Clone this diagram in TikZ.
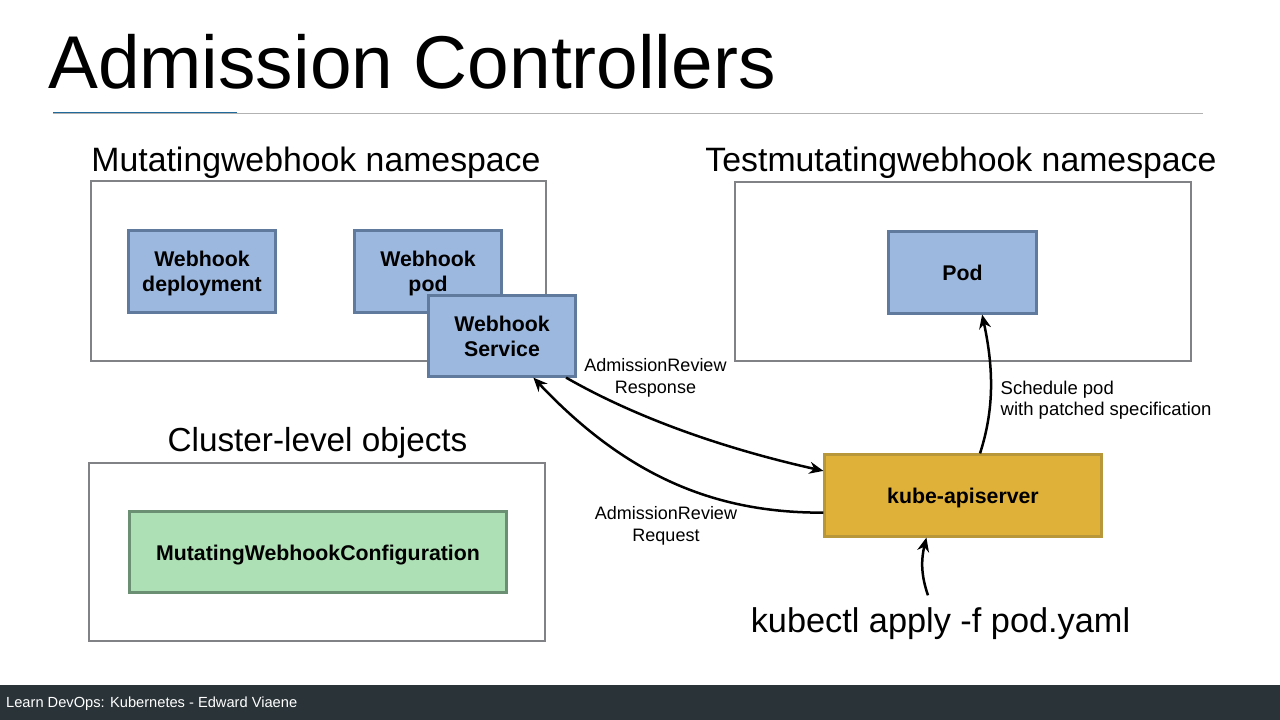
\documentclass[tikz,border=0pt]{standalone}
\usepackage{fontspec}
\setmainfont{Liberation Sans}
\definecolor{nsgray}{HTML}{808285}
\definecolor{bluefill}{HTML}{9DB8DE}
\definecolor{blueline}{HTML}{5F7A9C}
\definecolor{greenfill}{HTML}{AEE0B5}
\definecolor{greenline}{HTML}{6A8F72}
\definecolor{apifill}{HTML}{E0B138}
\definecolor{apiline}{HTML}{B8963A}
\definecolor{barfill}{HTML}{2A3338}
\definecolor{accent}{HTML}{1F6A9A}
\tikzset{
  nsbox/.style={draw=nsgray,line width=2.7pt,fill=white,inner sep=0pt},
  objbox/.style={draw=blueline,fill=bluefill,line width=2.2pt,inner sep=0pt,align=center,font=\fontsize{21.3}{25}\selectfont\bfseries},
  nudge/.style={execute at begin node={\rule{0pt}{#1}}},
  greenbox/.style={objbox,draw=greenline,fill=greenfill},
  apibox/.style={objbox,draw=apiline,fill=apifill},
  nslabel/.style={inner sep=0pt,font=\fontsize{33.8}{38}\selectfont},
  smalllabel/.style={inner sep=0pt,align=center,font=\fontsize{18}{21.5}\selectfont},
  flow/.style={draw=black,line width=2.5pt,-{Stealth[length=14pt,width=12pt]}}
}
\usetikzlibrary{arrows.meta}
\begin{document}
\begin{tikzpicture}[x=1pt,y=-1pt]
\useasboundingbox (0,0) rectangle (1280,720);
\fill[white] (0,0) rectangle (1280,720);
% title
\node[inner sep=0pt,anchor=west,font=\fontsize{74.8}{90}\selectfont] (title) at (48,61.5) {Admission Controllers};
\draw[line width=1pt,color=black!30] (53,113) -- (1203,113);
\draw[line width=1.4pt,color=accent] (53,112.6) -- (237,112.6);
% namespace boxes
\node[nsbox,minimum width=455pt,minimum height=180pt] (ns1) at (318.5,271) {};
\node[nsbox,minimum width=456pt,minimum height=179pt] (ns2) at (963,271.5) {};
\node[nsbox,minimum width=456pt,minimum height=178pt] (ns3) at (317,552) {};
\node[nslabel] (l1) at (316,162.5) {Mutatingwebhook namespace};
\node[nslabel] (l2) at (961,162.5) {Testmutatingwebhook namespace};
\node[nslabel,font=\fontsize{33.3}{38}\selectfont] (l3) at (317.5,443) {Cluster-level objects};
% objects
\node[objbox,minimum width=147pt,minimum height=82pt] (dep) at (202,271.5) {Webhook\\\smash{deployment}};
\node[objbox,minimum width=147pt,minimum height=82pt] (wpod) at (428,271.5) {Webhook\\\smash{pod}};
\node[objbox,minimum width=147pt,minimum height=81pt] (svc) at (502,336) {Webhook\\Service};
\node[objbox,minimum width=148pt,minimum height=82pt] (pod) at (962.5,272.5) {Pod};
\node[greenbox,nudge=21pt,minimum width=377pt,minimum height=81pt] (mwc) at (318,552) {MutatingWebhookConfiguration};
\node[apibox,nudge=20pt,minimum width=277pt,minimum height=82pt] (api) at (963,495.5) {kube-apiserver};
\node[inner sep=0pt,minimum width=380pt,minimum height=56pt,font=\fontsize{34.3}{38}\selectfont] (kc) at (940.5,623.5) {kubectl apply -f pod.yaml};
% connector labels
\node[smalllabel] (r1) at (655.5,378) {AdmissionReview\\Response};
\node[smalllabel] (r2) at (666,526) {AdmissionReview\\Request};
\node[smalllabel,align=left,anchor=west,font=\fontsize{18.5}{21.5}\selectfont] (r3) at (1000.5,400) {Schedule pod\\with patched specification};
% connectors
\draw[flow] (svc.-33.5) .. controls (640,420) and (730,450) .. (api.170.8);
\draw[flow] (api.187.2) .. controls (720,513) and (630,480) .. (svc.-53.3);
\draw[flow] (api.68) .. controls (994,410) and (994,370) .. (pod.-65);
\draw[flow] (kc.114) .. controls (921,575) and (921,560) .. (api.229);
% footer
\fill[barfill] (0,685) rectangle (1280,720);
\node[inner sep=0pt,anchor=west,text=white,font=\fontsize{14.65}{16}\selectfont] (foot) at (6,703.5) {Learn DevOps: Kubernetes - Edward Viaene};
\end{tikzpicture}
\end{document}
